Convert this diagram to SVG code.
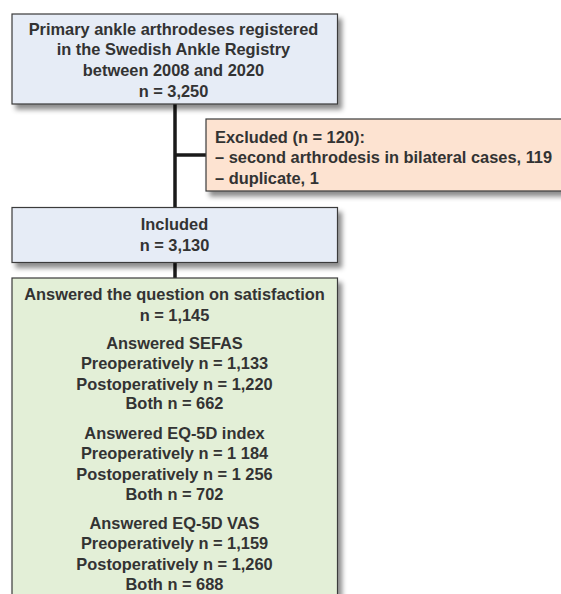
<svg xmlns="http://www.w3.org/2000/svg" width="561" height="594" viewBox="0 0 561 594">
<defs>
<filter id="sh" x="-10%" y="-10%" width="130%" height="140%">
<feDropShadow dx="4" dy="5" stdDeviation="2.5" flood-color="#000" flood-opacity="0.45"/>
</filter>
</defs>
<style>
.box{stroke:#3a3a3a;stroke-width:1.2;filter:url(#sh)}
.blue{fill:#e6ecf6}
.peach{fill:#fde3d1}
.green{fill:#e3efd7}
text{font-family:"Liberation Sans",Arial,sans-serif;font-size:16.4px;font-weight:bold;fill:#333}
.c{text-anchor:middle}
.conn{stroke:#1a1a1a;stroke-width:3.5;fill:none}
</style>
<rect width="561" height="594" fill="#fff"/>
<g id="connectors">
<line class="conn" x1="175" y1="104" x2="175" y2="278"/>
<line class="conn" x1="175" y1="155" x2="206" y2="155"/>
</g>
<g id="registered">
<rect class="box blue" x="12" y="14" width="325.5" height="90"/>
<text class="c" x="173.5" y="34.5">Primary ankle arthrodeses registered</text>
<text class="c" x="173.5" y="55.3">in the Swedish Ankle Registry</text>
<text class="c" x="173.5" y="76">between 2008 and 2020</text>
<text class="c" x="173.5" y="96.8">n = 3,250</text>
</g>
<g id="excluded">
<rect class="box peach" x="206" y="119" width="380" height="72"/>
<text x="215" y="142.7">Excluded (n = 120):</text>
<text x="215" y="163.3">– second arthrodesis in bilateral cases, 119</text>
<text x="215" y="183.5">– duplicate, 1</text>
</g>
<g id="included">
<rect class="box blue" x="12" y="207.5" width="325.5" height="55"/>
<text class="c" x="174.5" y="230">Included</text>
<text class="c" x="174.5" y="251">n = 3,130</text>
</g>
<g id="answered">
<rect class="box green" x="12" y="278" width="325.5" height="340"/>
<text class="c" x="174.5" y="300">Answered the question on satisfaction</text>
<text class="c" x="174.5" y="320.5">n = 1,145</text>
<text class="c" x="174.5" y="348.5">Answered SEFAS</text>
<text class="c" x="174.5" y="369">Preoperatively n = 1,133</text>
<text class="c" x="174.5" y="389.5">Postoperatively n = 1,220</text>
<text class="c" x="174.5" y="409">Both n = 662</text>
<text class="c" x="174.5" y="438.5">Answered EQ-5D index</text>
<text class="c" x="174.5" y="459">Preoperatively n = 1 184</text>
<text class="c" x="174.5" y="479.5">Postoperatively n = 1 256</text>
<text class="c" x="174.5" y="500">Both n = 702</text>
<text class="c" x="174.5" y="528.5">Answered EQ-5D VAS</text>
<text class="c" x="174.5" y="549.3">Preoperatively n = 1,159</text>
<text class="c" x="174.5" y="570">Postoperatively n = 1,260</text>
<text class="c" x="174.5" y="589.5">Both n = 688</text>
</g>
</svg>
